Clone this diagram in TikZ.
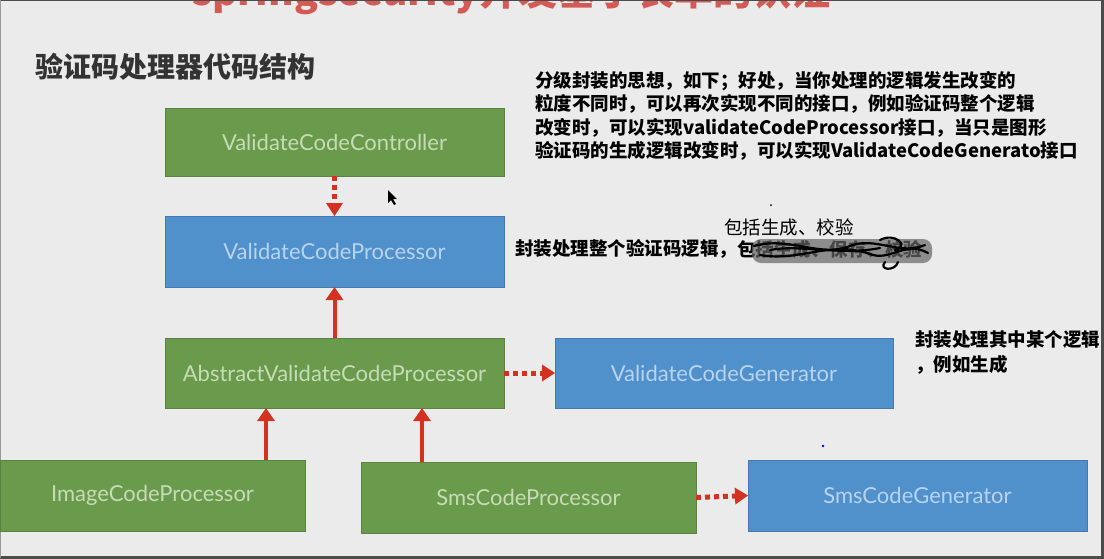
\documentclass[tikz,border=0pt]{standalone}
\usepackage{fontspec}
\usetikzlibrary{arrows.meta}
\newfontfamily\cjk{Noto Sans CJK SC}
\newfontfamily\boxfont{Lato}
\definecolor{bg}{HTML}{EBEBEB}
\definecolor{gfill}{HTML}{6A9A4B}
\definecolor{bfill}{HTML}{5090CB}
\definecolor{gtext}{HTML}{C6DCB6}
\definecolor{btext}{HTML}{B8D3EF}
\definecolor{arr}{HTML}{D2321F}
\definecolor{ttl}{HTML}{333333}
\definecolor{redtitle}{HTML}{D35A55}
\tikzset{
  gbox/.style={rectangle, fill=gfill, draw=gfill!85!black, line width=0.6pt, inner sep=0pt, outer sep=0pt,
    text=gtext, font=\boxfont\fontsize{22}{25}\selectfont},
  bbox/.style={rectangle, fill=bfill, draw=bfill!85!black, line width=0.6pt, inner sep=0pt, outer sep=0pt,
    text=btext, font=\boxfont\fontsize{22}{25}\selectfont},
  solidarr/.style={draw=arr, line width=4pt, -{Triangle[width=17pt,length=13pt]}},
  dotarr/.style={draw=arr, line width=5pt, dash pattern=on 5pt off 4pt, -{Triangle[width=17pt,length=13pt,line width=0pt]}},
  anno/.style={anchor=north west, inner sep=0pt, align=left, text=black, font=\cjk\bfseries\fontsize{18.5}{23.5}\selectfont},
  note/.style={anchor=west, inner sep=0pt, text=black, font=\cjk\bfseries\fontsize{18.5}{20}\selectfont},
}
\begin{document}
\begin{tikzpicture}[x=1pt,y=-1pt]
\useasboundingbox (0,0) rectangle (1104,558);
\fill[bg] (0,0) rectangle (1104,558);
% frame
\draw[draw=black!70, line width=2pt] (0,0) -- (1104,0);
\draw[draw=black!70, line width=3pt] (0,557) -- (1102,557) -- (1102,0);
\draw[draw=black!40, line width=1pt] (0.5,0) -- (0.5,558);
% red title, cut off at the top as in the reference
\begin{scope}
\clip (0,1) rectangle (1104,20);
\node[anchor=base west, inner sep=0pt, text=redtitle, font=\cjk\bfseries\fontsize{39}{39}\selectfont] (rt) at (192,5) {springsecurity开发基于表单的认证};
\end{scope}
% heading
\node[anchor=west, inner sep=0pt, text=ttl, font=\cjk\bfseries\fontsize{28}{30}\selectfont] (hd) at (35,67) {验证码处理器代码结构};
% boxes
\node[gbox, minimum width=339, minimum height=68] (ctrl) at (334.5,142) {ValidateCodeController};
\node[bbox, minimum width=339, minimum height=71] (proc) at (334.5,251.5) {ValidateCodeProcessor};
\node[gbox, minimum width=339, minimum height=70] (abs) at (334.5,373) {AbstractValidateCodeProcessor};
\node[bbox, minimum width=338, minimum height=70] (vgen) at (724,373) {ValidateCodeGenerator};
\node[gbox, minimum width=305, minimum height=71] (img) at (152.5,495.5) {ImageCodeProcessor};
\node[gbox, minimum width=335, minimum height=71] (sms) at (528.5,497.5) {SmsCodeProcessor};
\node[bbox, minimum width=339, minimum height=71] (sgen) at (917.5,495.5) {SmsCodeGenerator};
% connectors
\draw[dotarr] (ctrl.south) -- (proc.north);
\draw[solidarr] (abs.north) -- (proc.south);
\draw[dotarr] (abs.east) -- (vgen.west);
\draw[solidarr] ([xshift=113.5]img.north) -- ([xshift=113.5]img.north |- abs.south);
\draw[solidarr] ([xshift=-106.5]sms.north) -- ([xshift=-106.5]sms.north |- abs.south);
\draw[dotarr] (sms.east) -- (sgen.west);
% annotations
\node[anno] (a1) at (535,71) {分级封装的思想，如下；好处，当你处理的逻辑发生改变的\\粒度不同时，可以再次实现不同的接口，例如验证码整个逻辑\\改变时，可以实现validateCodeProcessor接口，当只是图形\\验证码的生成逻辑改变时，可以实现ValidateCodeGenerato接口};
\node[anchor=west, inner sep=0pt, text=black, font=\cjk\fontsize{18.5}{20}\selectfont] (a2) at (724,227) {包括生成、校验};
\node[note] (a3) at (515,249) {封装处理整个验证码逻辑，};
\node[note] (a3b) at (737,249) {包括生成、保存、校验};
% scribble over the struck text
\fill[black!60, opacity=0.7, rounded corners=9pt] (752,239) rectangle (932,263);
\draw[black, line width=2.2pt, line cap=round, line join=round]
  (754,246) .. controls (790,236) and (820,258) .. (850,246)
  .. controls (875,236) and (900,256) .. (925,245)
  (760,255) .. controls (800,262) and (830,240) .. (870,254)
  .. controls (890,262) and (905,240) .. (928,253)
  (770,250) .. controls (800,244) and (840,256) .. (880,248)
  (880,240) .. controls (895,232) and (910,246) .. (895,250)
  (885,262) .. controls (878,270) and (895,272) .. (898,262);
\node[note] (a4) at (915,340) {封装处理其中某个逻辑};
\node[note] (a5) at (915,365) {，例如生成};
% small marks
\fill[black] (771,205) circle (1pt);
\fill[blue] (823,446) circle (1.3pt);
% mouse cursor
\fill[black] (388,190) -- (388,203) -- (391,200) -- (394,205) -- (396,204) -- (393,199) -- (397,199) -- cycle;
\end{tikzpicture}
\end{document}
